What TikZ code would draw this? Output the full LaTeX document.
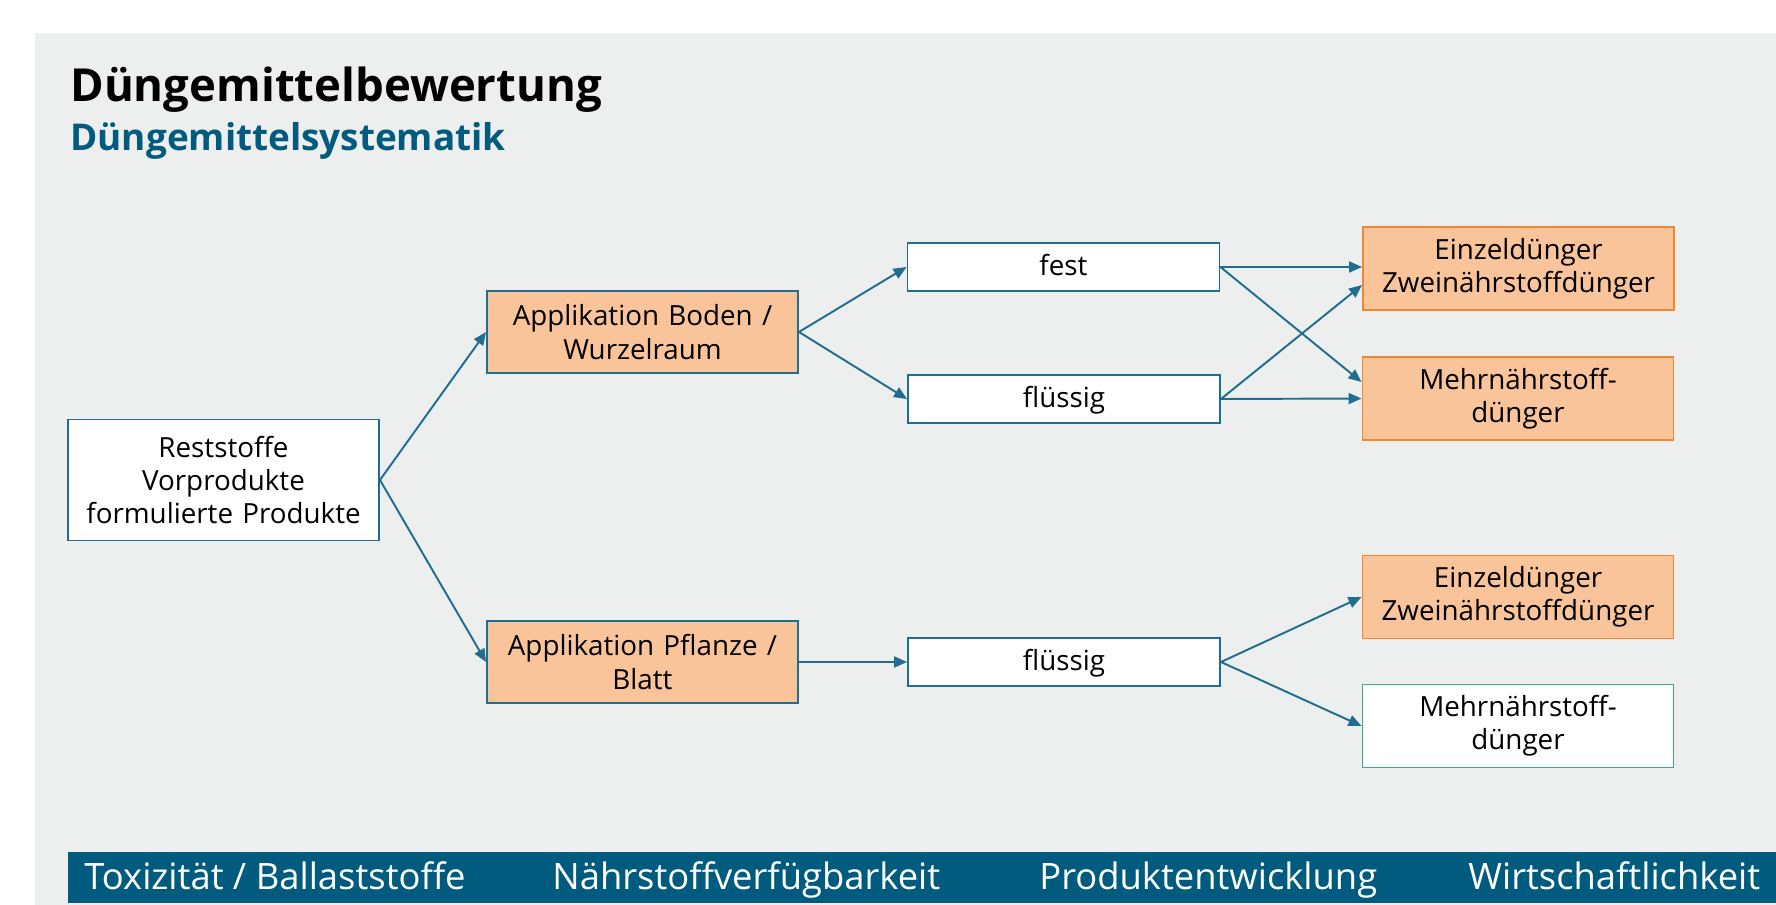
\documentclass[tikz,border=0pt]{standalone}
\usepackage{fontspec}
\setmainfont{Open Sans}
\usetikzlibrary{arrows.meta}
\definecolor{bggray}{RGB}{237,238,238}
\definecolor{fhblue}{RGB}{0,91,127}
\definecolor{lineblue}{RGB}{31,110,143}
\definecolor{orfill}{RGB}{249,196,154}
\definecolor{ordraw}{RGB}{240,135,46}
\definecolor{grdraw}{RGB}{60,172,140}
\tikzstyle{box}=[draw=lineblue, fill=white, line width=1.1pt, inner sep=0pt,
    text centered, font=\fontsize{15.8}{19}\selectfont]
\tikzstyle{stoff}=[box, text width=6.22cm, minimum height=2.42cm]
\tikzstyle{appl}=[box, fill=orfill, text width=6.22cm, minimum height=1.64cm]
\tikzstyle{form}=[box, text width=6.24cm, minimum height=0.96cm,
    text height=12pt, text depth=2pt]
\tikzstyle{duenger}=[box, draw=ordraw, fill=orfill, text width=6.22cm, minimum height=1.66cm]
\tikzstyle{duengerg}=[duenger, draw=grdraw, fill=white]
\tikzstyle{conn}=[draw=lineblue, line width=1.1pt, ->]
\tikzstyle{leiste}=[anchor=base west, inner sep=0pt, text=white,
    font=\fontsize{20.7}{24}\selectfont]

\begin{document}
\begin{tikzpicture}[>={Triangle[length=2.6mm,width=2.2mm]}]
    % Hintergrund
    \fill [white] (0,0) rectangle (35.52,-18.1);
    \fill [bggray] (0.7,-0.66) rectangle (35.52,-18.1);
    \fill [fhblue] (1.36,-17.04) rectangle (35.52,-18.06);
    \node (titel) [anchor=base west, inner sep=0pt, font=\bfseries\fontsize{25.9}{30}\selectfont]
        at (1.4,-2.03) {Düngemittelbewertung};
    \node (untertitel) [anchor=base west, inner sep=0pt, text=fhblue, font=\bfseries\fontsize{21}{26}\selectfont]
        at (1.4,-3.01) {Düngemittelsystematik};
    % Knoten
    \node (rest) [stoff] at (4.47,-9.6) {Reststoffe\\ Vorprodukte\\ formulierte Produkte};
    \path (rest)+(8.38,2.96) node (boden) [appl] {Applikation Boden /\\ Wurzelraum};
    \path (rest)+(8.38,-3.64) node (pflanze) [appl] {Applikation Pflanze /\\ Blatt};
    \path (boden)+(8.42,1.3) node (fest) [form] {fest};
    \path (boden)+(8.43,-1.34) node (fluessigA) [form] {flüssig};
    \path (pflanze)+(8.43,0) node (fluessigB) [form] {flüssig};
    \path (fest)+(9.1,-0.03) node (einzelA) [duenger] {Einzeldünger\\ Zweinährstoffdünger};
    \path (fluessigA)+(9.08,0.01) node (mehrA) [duenger] {Mehrnährstoff-\\ dünger};
    \path (fluessigB)+(9.08,1.3) node (einzelB) [duenger] {Einzeldünger\\ Zweinährstoffdünger};
    \path (fluessigB)+(9.08,-1.28) node (mehrB) [duengerg] {Mehrnährstoff-\\ dünger};
    % Pfeile
    \path [conn] (rest.east) -- (boden.west);
    \path [conn] (rest.east) -- (pflanze.west);
    \path [conn] (boden.east) -- (fest.west);
    \path [conn] (boden.east) -- (fluessigA.west);
    \path [conn] (pflanze.east) -- (fluessigB.west);
    \path [conn] (fest.east) -- (einzelA.west |- fest);
    \path [conn] (fest.east) -- ([yshift=0.33cm]mehrA.west);
    \path [conn] (fluessigA.east) -- ([yshift=-0.33cm]einzelA.west);
    \path [conn] (fluessigA.east) -- (mehrA.west);
    \path [conn] (fluessigB.east) -- (einzelB.west);
    \path [conn] (fluessigB.east) -- (mehrB.west);
    % Leiste
    \node (tox) [leiste] at (1.68,-17.78) {Toxizität / Ballaststoffe};
    \node (naehr) [leiste] at (11.04,-17.78) {Nährstoffverfügbarkeit};
    \node (prod) [leiste] at (20.78,-17.78) {Produktentwicklung};
    \node (wirt) [leiste] at (29.36,-17.78) {Wirtschaftlichkeit};
\end{tikzpicture}
\end{document}
